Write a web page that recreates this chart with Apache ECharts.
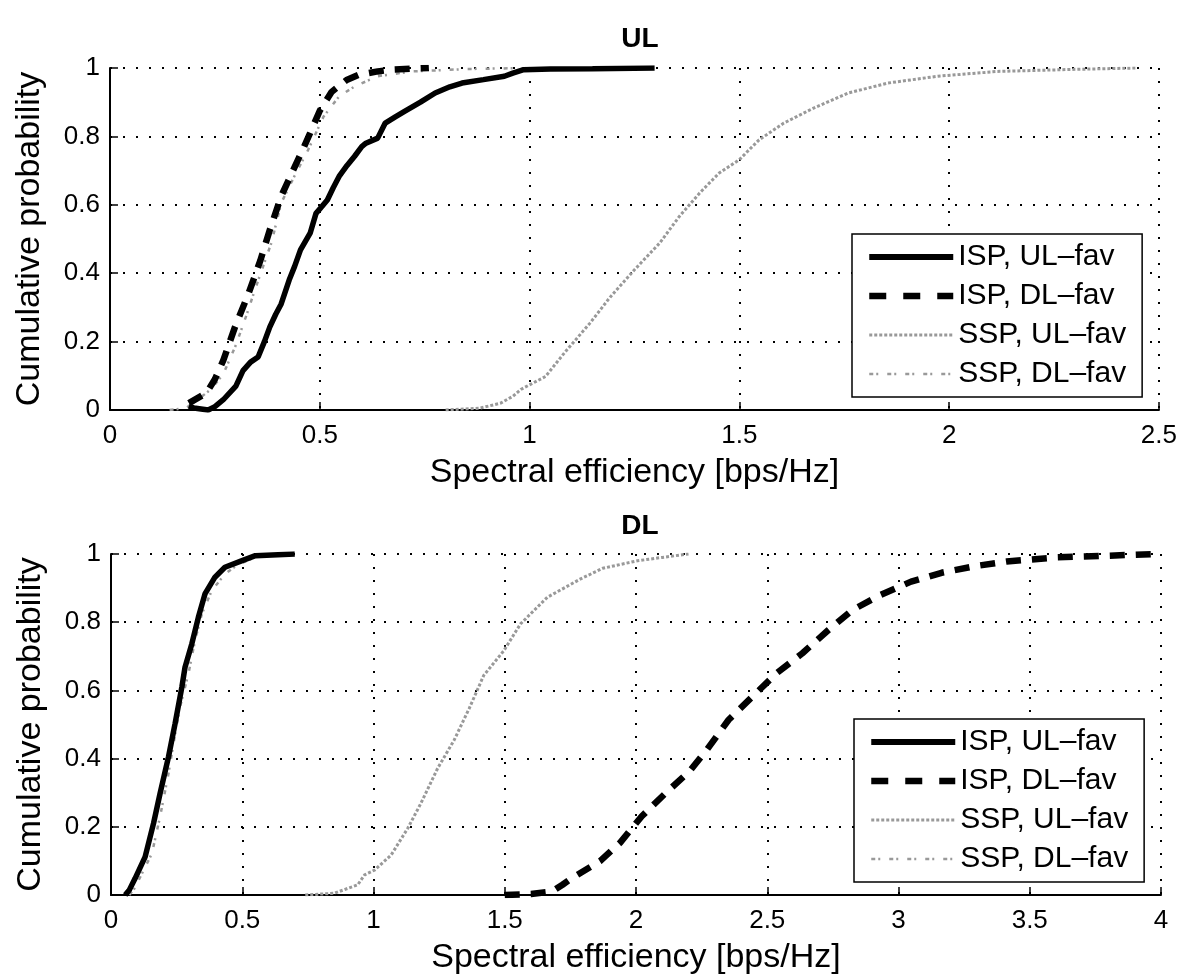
<!DOCTYPE html>
<html>
<head>
<meta charset="utf-8">
<script src="https://cdn.jsdelivr.net/npm/echarts@6/dist/echarts.min.js"></script>
<style>
html,body{margin:0;padding:0;background:#fff;}
#chart{width:1180px;height:978px;}
</style>
</head>
<body>
<div id="chart"></div>
<script>
// ---- data ----
var seriesNames = ['ISP, UL–fav', 'ISP, DL–fav', 'SSP, UL–fav', 'SSP, DL–fav'];
var panelTitles = ['UL', 'DL'];
var xAxisName = 'Spectral efficiency [bps/Hz]';
var yAxisName = 'Cumulative probability';

// UL panel
var ulIspUl = [[0.188,0.012],[0.2,0.006],[0.234,0],[0.25,0.01],[0.27,0.03],[0.3,0.07],[0.317,0.115],[0.335,0.14],[0.353,0.155],[0.368,0.2],[0.381,0.243],[0.395,0.28],[0.408,0.31],[0.427,0.38],[0.44,0.42],[0.454,0.468],[0.477,0.517],[0.491,0.575],[0.505,0.595],[0.518,0.614],[0.532,0.65],[0.546,0.683],[0.565,0.715],[0.583,0.742],[0.6,0.77],[0.61,0.78],[0.638,0.795],[0.656,0.839],[0.68,0.857],[0.702,0.873],[0.74,0.9],[0.775,0.927],[0.81,0.945],[0.839,0.956],[0.89,0.966],[0.94,0.976],[0.96,0.985],[0.986,0.995],[1.05,0.997],[1.15,0.998],[1.298,1]];
var ulIspDl = [[0.188,0.02],[0.23,0.05],[0.25,0.09],[0.27,0.145],[0.298,0.243],[0.33,0.34],[0.358,0.436],[0.381,0.527],[0.408,0.625],[0.436,0.7],[0.459,0.76],[0.477,0.81],[0.5,0.875],[0.528,0.93],[0.564,0.965],[0.592,0.98],[0.638,0.99],[0.67,0.995],[0.76,1]];
var ulSspUl = [[0.8,0],[0.88,0.005],[0.931,0.02],[0.96,0.04],[0.979,0.06],[1.038,0.098],[1.085,0.17],[1.144,0.254],[1.192,0.33],[1.25,0.41],[1.31,0.488],[1.357,0.566],[1.405,0.634],[1.452,0.693],[1.5,0.732],[1.547,0.79],[1.606,0.839],[1.677,0.883],[1.76,0.927],[1.854,0.956],[1.973,0.976],[2.115,0.99],[2.3,0.996],[2.446,1]];
var ulSspDl = [[0.142,0],[0.18,0.005],[0.206,0.027],[0.24,0.06],[0.27,0.105],[0.3,0.19],[0.326,0.28],[0.345,0.35],[0.362,0.41],[0.385,0.49],[0.408,0.605],[0.44,0.685],[0.472,0.76],[0.509,0.858],[0.546,0.917],[0.583,0.946],[0.638,0.976],[0.72,0.99],[0.85,0.997],[1.0,1]];

// DL panel
var dlIspUl = [[0.054,0],[0.07,0.015],[0.092,0.049],[0.13,0.112],[0.162,0.21],[0.187,0.298],[0.219,0.405],[0.244,0.502],[0.27,0.61],[0.282,0.668],[0.308,0.737],[0.333,0.815],[0.358,0.883],[0.396,0.932],[0.434,0.961],[0.497,0.98],[0.55,0.995],[0.7,1]];
var dlIspDl = [[1.5,0],[1.6,0.003],[1.68,0.01],[1.72,0.03],[1.757,0.05],[1.864,0.1],[1.939,0.153],[2.022,0.231],[2.113,0.299],[2.204,0.363],[2.27,0.426],[2.353,0.514],[2.444,0.582],[2.535,0.65],[2.634,0.709],[2.733,0.777],[2.825,0.836],[2.932,0.88],[3.048,0.919],[3.164,0.945],[3.296,0.965],[3.412,0.978],[3.6,0.99],[3.8,0.995],[3.98,1]];
var dlSspUl = [[0.74,0],[0.85,0.005],[0.94,0.03],[0.966,0.059],[1.004,0.073],[1.067,0.117],[1.13,0.195],[1.18,0.268],[1.244,0.371],[1.307,0.454],[1.364,0.546],[1.42,0.644],[1.497,0.717],[1.56,0.795],[1.662,0.873],[1.789,0.927],[1.873,0.958],[2.005,0.98],[2.1,0.99],[2.2,1]];
var dlSspDl = [[0.07,0],[0.09,0.02],[0.118,0.063],[0.156,0.122],[0.187,0.23],[0.219,0.356],[0.238,0.444],[0.263,0.551],[0.295,0.649],[0.32,0.746],[0.346,0.824],[0.384,0.893],[0.434,0.941],[0.485,0.97],[0.55,0.99],[0.65,1]];

var xMax = [2.5, 4];
var xInterval = 0.5;
var yInterval = 0.2;

// ---- styles ----
var FONT = '"Liberation Sans", Arial, Helvetica, sans-serif';
var styles = [
  {color:'#000', width:5.5, type:'solid'},
  {color:'#000', width:6.5, type:[15,11]},
  {color:'#999', width:3, type:[3,2]},
  {color:'#999', width:2.5, type:[4,3,2,9]}
];
var legendStyles = [
  {color:'#000', width:6, type:'solid'},
  {color:'#000', width:6.5, type:[17,17]},
  {color:'#999', width:3, type:[3,2]},
  {color:'#999', width:2.5, type:[4,3,2,9]}
];
var panelData = [[ulIspUl, ulIspDl, ulSspUl, ulSspDl],[dlIspUl, dlIspDl, dlSspUl, dlSspDl]];

var grids = [
  {left:110, top:68, width:1051, height:342},
  {left:111, top:554, width:1050, height:341}
];

function axisCommon(){
  return {
    nameLocation:'middle',
    nameTextStyle:{fontFamily:FONT, fontSize:34, color:'#000'},
    axisLine:{show:true, onZero:false, lineStyle:{color:'#000', width:2}},
    axisTick:{show:true, inside:true, length:8, lineStyle:{color:'#000', width:1.5}},
    splitLine:{show:true, lineStyle:{color:'#000', width:2, type:[2,11]}}
  };
}
function mkX(i){
  var a = axisCommon();
  a.type = 'value'; a.gridIndex = i; a.min = 0; a.max = xMax[i]; a.interval = xInterval;
  a.name = xAxisName; a.nameGap = 46;
  a.axisLabel = {fontFamily:FONT, fontSize:26, color:'#000', margin:13};
  return a;
}
function mkY(i){
  var a = axisCommon();
  a.type = 'value'; a.gridIndex = i; a.min = 0; a.max = 1; a.interval = yInterval;
  a.name = yAxisName; a.nameGap = 63;
  a.axisLabel = {fontFamily:FONT, fontSize:26, color:'#000', margin:10};
  return a;
}

var series = [];
for (var p = 0; p < 2; p++) {
  for (var s = 0; s < 4; s++) {
    series.push({
      type:'line', name:seriesNames[s], xAxisIndex:p, yAxisIndex:p,
      data:panelData[p][s], symbol:'none', showSymbol:false, smooth:false,
      z: 10 - s,
      lineStyle:{color:styles[s].color, width:styles[s].width, type:styles[s].type},
      itemStyle:{color:'rgba(0,0,0,0)', borderWidth:0},
      emphasis:{disabled:true}, animation:false
    });
  }
}

function mkLegend(left, top){
  var items = seriesNames.map(function(n, k){
    return {
      name:n,
      itemStyle:{color:'rgba(0,0,0,0)', borderWidth:0, opacity:0},
      lineStyle:{color:legendStyles[k].color, width:legendStyles[k].width, type:legendStyles[k].type}
    };
  });
  return {
    data:items, orient:'vertical', left:left, top:top,
    backgroundColor:'#fff', borderColor:'#000', borderWidth:1.5,
    padding:[8,16,8,14], itemGap:9, itemWidth:84, itemHeight:14,
    textStyle:{fontFamily:FONT, fontSize:30, color:'#000', lineHeight:30},
    selectedMode:false
  };
}

var option = {
  backgroundColor:'#fff',
  animation:false,
  title:[
    {text:panelTitles[0], left:635, top:20, textAlign:'center', textStyle:{fontFamily:FONT, fontSize:28, fontWeight:'bold', color:'#000'}},
    {text:panelTitles[1], left:635, top:507, textAlign:'center', textStyle:{fontFamily:FONT, fontSize:28, fontWeight:'bold', color:'#000'}}
  ],
  grid:grids,
  xAxis:[mkX(0), mkX(1)],
  yAxis:[mkY(0), mkY(1)],
  legend:[mkLegend(852,234), mkLegend(854,719)],
  series:series
};

var chart = echarts.init(document.getElementById('chart'), null, {renderer:'canvas'});
chart.setOption(option);
</script>
</body>
</html>
